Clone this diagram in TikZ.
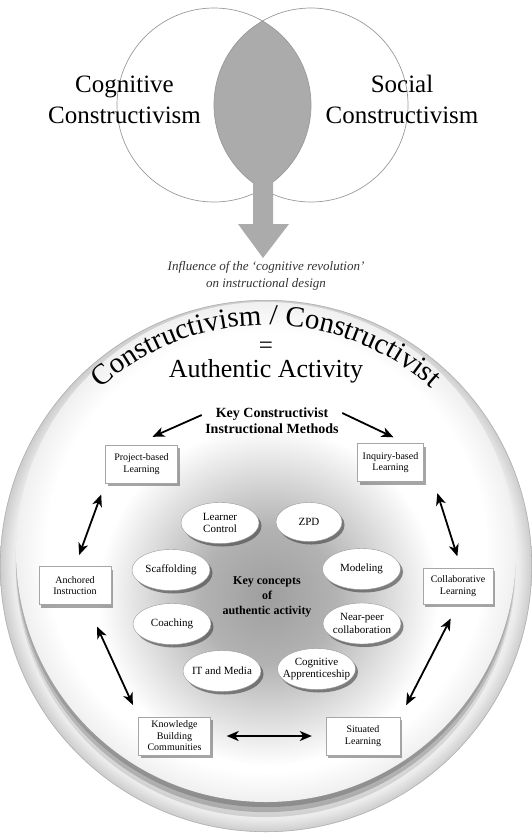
\documentclass[tikz,border=0pt]{standalone}
\usepackage{fontspec}
\setmainfont{Liberation Serif}
\usetikzlibrary{arrows.meta,shapes.geometric,shadows,decorations.text,fadings}
\pgfdeclareradialshading{discrim}{\pgfpoint{0bp}{0bp}}{color(0bp)=(white); color(22bp)=(white); color(23.8bp)=(black!8); color(25bp)=(black!20); color(50bp)=(black!20)}
\pgfdeclareradialshading{platerim}{\pgfpoint{0bp}{0bp}}{color(0bp)=(white); color(22bp)=(white); color(25bp)=(black!6); color(50bp)=(black!6)}
\pgfdeclareradialshading{coregray}{\pgfpoint{0bp}{0bp}}{color(0bp)=(black!38); color(10bp)=(black!30); color(25bp)=(white); color(50bp)=(white)}
\tikzfading[name=fadebottom, top color=transparent!100, middle color=transparent!100, bottom color=transparent!0]
\newcommand{\arcfont}{\fontsize{29}{29}\selectfont}
\begin{document}
\begin{tikzpicture}[x=1pt,y=-1pt]
\tikzstyle{venn}=[draw=black!40, line width=0.7pt]
\tikzstyle{method}=[draw=black!35, fill=white, minimum width=72pt, minimum height=38pt, inner sep=1pt, align=center,
font=\fontsize{10}{11.5}\selectfont, drop shadow={fill=black!70, opacity=0.5, shadow xshift=2pt, shadow yshift=-3pt}]
\tikzstyle{concept}=[ellipse, draw=black!40, fill=white, minimum width=78pt, minimum height=41pt, inner xsep=-12pt, inner ysep=-6pt,
align=center, font=\fontsize{11}{12.5}\selectfont, drop shadow={fill=black!75, opacity=0.6, shadow xshift=2.5pt, shadow yshift=-3pt}]
\tikzstyle{link}=[line width=1.8pt, {Stealth[length=12pt,width=10pt,inset=3.5pt]}-{Stealth[length=12pt,width=10pt,inset=3.5pt]}]
\tikzstyle{lead}=[line width=1.8pt, -{Stealth[length=12pt,width=10pt,inset=3.5pt]}]
\useasboundingbox (0,0) rectangle (532,839);

\begin{scope}
\clip (214,105) circle (97);
\fill[black!33] (311,105) circle (97);
\end{scope}
\draw[venn] (214,105) circle (97);
\draw[venn] (311,105) circle (97);
\fill[black!33] (253,175) -- (253,224) -- (238,224) -- (263,258) -- (289,224) -- (273,224) -- (273,175) -- cycle;
\node[align=center, font=\fontsize{25}{31}\selectfont] (cog) at (124.5,100) {Cognitive\\Constructivism};
\node[align=center, font=\fontsize{25}{31}\selectfont] (soc) at (402,99) {Social\\Constructivism};
\node[align=center, font=\itshape\fontsize{13}{17}\selectfont, text=black!80] (infl) at (266,276) {Influence of the `cognitive revolution'\\on instructional design};

\shade[shading=discrim] (266,566) circle (266);
\draw[black!30, line width=0.6pt] (266,566) circle (265.7);
\foreach \d/\o in {5/0.2,10/0.2,15/0.12}
\fill[black, opacity=\o, path fading=fadebottom] (266,552+\d) circle (250);
\shade[shading=platerim] (266,552) circle (250);
\shade[shading=coregray] (268,596) circle (170);
\path[decorate, decoration={text along path, text align=center, text={|\arcfont|Constructivism / Constructivist}}]
(266,573) ++(222:248) arc[start angle=222, end angle=318, radius=248];
\node[font=\fontsize{25}{25}\selectfont] (eq) at (266,348) {=};
\node[anchor=base, font=\fontsize{26}{26}\selectfont] (auth) at (266,377) {Authentic Activity};
\node[align=center, font=\bfseries\fontsize{14}{16}\selectfont] (keym) at (272,421) {Key Constructivist\\Instructional Methods};

\node[method] (proj) at (141.5,464) {Project-based\\Learning};
\node[method, minimum width=66pt] (inq) at (390.5,462.5) {Inquiry-based\\Learning};
\node[method] (anch) at (75,585.5) {Anchored\\Instruction};
\node[method, minimum width=70pt, minimum height=36pt] (coll) at (458,586) {Collaborative\\Learning};
\node[method] (know) at (174.5,736) {Knowledge\\Building\\Communities};
\node[method, minimum width=74pt] (sit) at (363,736) {Situated\\Learning};

\node[concept] (lc) at (220,523) {Learner\\Control};
\node[concept, minimum width=66pt, minimum height=39pt] (zpd) at (309,522) {ZPD};
\node[concept] (scaf) at (171,570) {Scaffolding};
\node[concept] (model) at (361.5,569) {Modeling};
\node[concept] (coach) at (172,624) {Coaching};
\node[concept] (near) at (362,623.5) {Near-peer\\collaboration};
\node[concept] (itm) at (222,671) {IT and Media};
\node[concept] (capp) at (316.5,669) {Cognitive\\Apprenticeship};
\node[align=center, font=\bfseries\fontsize{12}{15}\selectfont] (kc) at (267,597) {Key concepts\\of\\authentic activity};

\draw[lead] ([yshift=6pt]keym.west) -- ([xshift=11pt,yshift=8pt]proj.north);
\draw[lead] ([yshift=8pt]keym.east) -- ([xshift=3pt,yshift=6pt]inq.north);
\draw[link, shorten <=12pt, shorten >=12pt] (proj.south west) -- (anch.north);
\draw[link, shorten <=12pt, shorten >=12pt] ([xshift=10pt]inq.south east) -- ([xshift=3pt]coll.north);
\draw[link, shorten <=24pt, shorten >=13pt] ([xshift=12pt]anch.south) -- (know.north west);
\draw[link, shorten <=16pt, shorten >=13pt] (coll.south) -- (sit.north east);
\draw[link, shorten <=16pt, shorten >=14pt] (know.east) -- (sit.west);
\end{tikzpicture}
\end{document}
